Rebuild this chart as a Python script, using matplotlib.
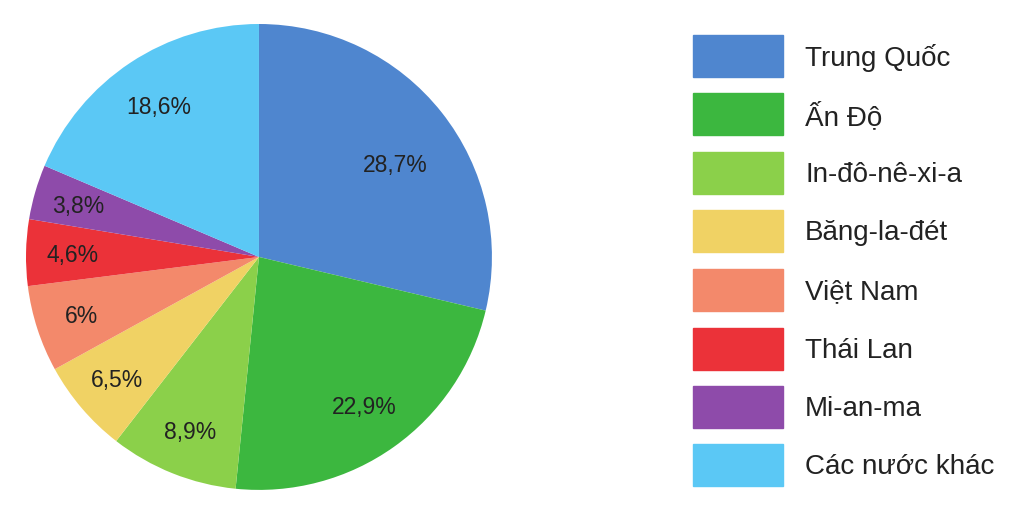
import matplotlib
matplotlib.use("Agg")
import matplotlib.pyplot as plt
from matplotlib.patches import Rectangle
import numpy as np

# data
countries = ["Trung Quốc", "Ấn Độ", "In-đô-nê-xi-a", "Băng-la-đét",
             "Việt Nam", "Thái Lan", "Mi-an-ma", "Các nước khác"]
shares = [28.7, 22.9, 8.9, 6.5, 6.0, 4.6, 3.8, 18.6]
pct_labels = ["28,7%", "22,9%", "8,9%", "6,5%", "6%", "4,6%", "3,8%", "18,6%"]
colors = ["#4F86CF", "#3CB73F", "#8BD04A", "#F0D264",
          "#F3896B", "#EB3239", "#8E4BAA", "#5BC8F5"]

plt.rcParams['font.family'] = ['Liberation Sans', 'DejaVu Sans']

fig = plt.figure(figsize=(10.24, 5.19), dpi=100)
ax = fig.add_axes([0.0254, 0.0559, 0.455, 0.898])

wedges, _ = ax.pie(shares, colors=colors, startangle=90, counterclock=False,
                   radius=1.0)
ax.set_aspect('equal')
ax.set_xlim(-1, 1)
ax.set_ylim(-1, 1)

# percentage labels inside wedges (distance from centre, small angle nudge)
dist = [0.71, 0.78, 0.80, 0.80, 0.80, 0.80, 0.81, 0.78]
nudge = [-4, 0, 0, 0, 0, 0, 0, 0]
for w, lab, d, n in zip(wedges, pct_labels, dist, nudge):
    ang = np.deg2rad((w.theta1 + w.theta2) / 2 + n)
    ax.text(d * np.cos(ang), d * np.sin(ang) - 0.01, lab, ha='center',
            va='center', fontsize=16.5, color='#222222')

# legend drawn by hand
box_x, box_w, box_h = 693 / 1024, 90 / 1024, 42 / 519
top = 1 - 35 / 519
step = 58.5 / 519
for i, (name, c) in enumerate(zip(countries, colors)):
    y0 = top - box_h - i * step
    fig.patches.append(Rectangle((box_x, y0), box_w, box_h, color=c,
                                 transform=fig.transFigure, figure=fig))
    fig.text(805 / 1024, y0 + box_h / 2 - 2 / 519, name, ha='left',
             va='center', fontsize=20, color='#222222')

fig.savefig("out.png", dpi=100)
